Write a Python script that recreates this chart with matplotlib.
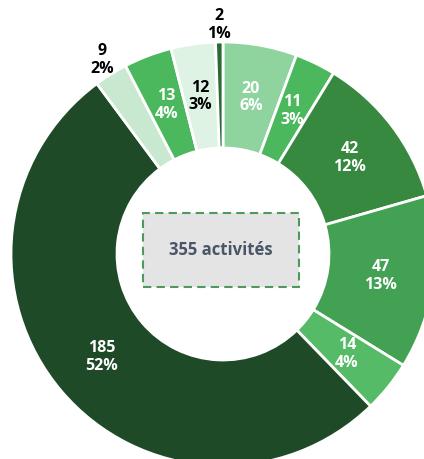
import numpy as np
import matplotlib
matplotlib.use("Agg")
import matplotlib.pyplot as plt
from matplotlib.patches import Rectangle

# Data (clockwise from top)
values = [20, 11, 42, 47, 14, 185, 9, 13, 12, 2]
percents = ["6%", "3%", "12%", "13%", "4%", "52%", "2%", "4%", "3%", "1%"]
colors = ["#8fd39f", "#4cb85d", "#37893f", "#42a152", "#55bb66",
          "#1f4a27", "#c8e9d0", "#4bb85d", "#dff3e4", "#2b6a34"]
label_colors = ["white", "white", "white", "white", "white",
                "white", "black", "white", "black", "black"]
outside = [False, False, False, False, False, False, True, False, False, True]
total_label = "355 activités"

plt.rcParams['font.family'] = ['Open Sans', 'DejaVu Sans']

W, H = 424, 459
fig = plt.figure(figsize=(W / 100, H / 100), dpi=100)
ax = fig.add_axes([0, 0, 1, 1])
cx, cy = 223, 254
ax.set_aspect('equal')
ax.axis('off')

R = 212
width = 106
wedges, _ = ax.pie(values, colors=colors, startangle=90, counterclock=False,
                   radius=R, center=(0, 0),
                   wedgeprops=dict(width=width, edgecolor='white', linewidth=2))
ax.set_xlim(-cx, W - cx)
ax.set_ylim(-(H - cy), cy)

for w, v, p, lc, out in zip(wedges, values, percents, label_colors, outside):
    ang = np.deg2rad((w.theta1 + w.theta2) / 2)
    r = R * 1.08 if out else R - width / 2
    x, y = r * np.cos(ang), r * np.sin(ang)
    ax.text(x, y, f"{v}\n{p}", ha='center', va='center', color=lc,
            fontsize=11.5, fontweight='bold', linespacing=1.15)

box = Rectangle((-80, -33), 156, 74, facecolor='#e4e4e4', edgecolor='#4e9a5c',
                linewidth=1.5, linestyle=(0, (4, 2.5)), zorder=3)
ax.add_patch(box)
ax.text(-2, 4, total_label, ha='center', va='center', color='#4a5568',
        fontsize=12, fontweight='bold', zorder=4)

fig.savefig("out.png", dpi=100)
